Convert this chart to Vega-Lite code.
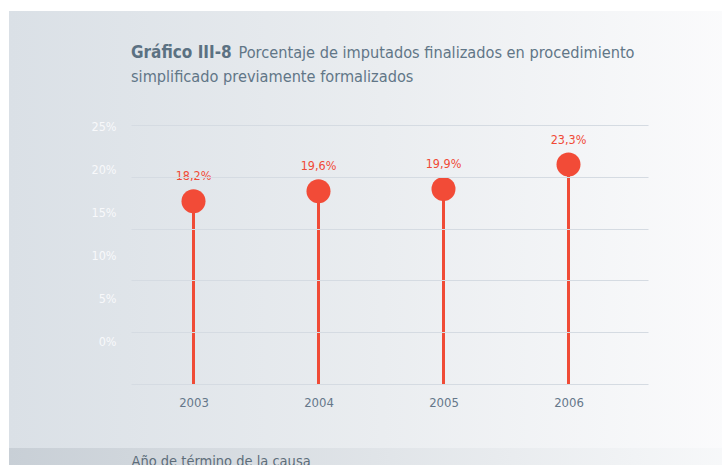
{
  "$schema": "https://vega.github.io/schema/vega-lite/v6.json",
  "width": 517,
  "height": 259,
  "autosize": "none",
  "padding": {"left": 131, "top": 125, "right": 74, "bottom": 81},
  "background": "#ffffff",
  "config": {"view": {"stroke": null}},
  "title": {
    "text": "Gráfico III-8",
    "subtitle": "simplificado previamente formalizados",
    "anchor": "start",
    "frame": "group",
    "font": "DejaVu Sans Condensed, DejaVu Sans, sans-serif",
    "fontSize": 17,
    "fontWeight": "bold",
    "color": "#5b7182",
    "subtitleFont": "DejaVu Sans Condensed, DejaVu Sans, sans-serif",
    "subtitleFontSize": 16.2,
    "subtitleFontWeight": "normal",
    "subtitleColor": "#617687",
    "subtitlePadding": 7,
    "offset": 0,
    "dy": 75
  },
  "data": {
    "values": [
      {"year": 2003, "value": 18.2, "label": "18,2%"},
      {"year": 2004, "value": 19.6, "label": "19,6%"},
      {"year": 2005, "value": 19.9, "label": "19,9%"},
      {"year": 2006, "value": 23.3, "label": "23,3%"}
    ]
  },
  "layer": [
    {
      "layer": [
        {
          "data": {"values": [{"part": "background"}]},
          "mark": {
            "type": "rect",
            "clip": false,
            "color": {
              "gradient": "linear",
              "x1": 0, "x2": 1, "y1": 0, "y2": 0,
              "stops": [
                {"offset": 0, "color": "#dae0e6"},
                {"offset": 0.5, "color": "#eaedf0"},
                {"offset": 1, "color": "#fcfcfd"}
              ]
            }
          },
          "encoding": {
            "x": {
              "datum": 2001.524,
              "type": "quantitative",
              "scale": {"domain": [2002.5, 2006.636], "nice": false, "zero": false},
              "axis": {
                "values": [2003, 2004, 2005, 2006],
                "format": "d",
                "labelColor": "#65778a",
                "labelFont": "DejaVu Sans Condensed, DejaVu Sans, sans-serif",
                "labelFontSize": 13,
                "labelPadding": 12,
                "labelFlush": false,
                "ticks": false,
                "tickSize": 0,
                "domain": false,
                "grid": false,
                "title": "Año de término de la causa",
                "titleX": 0,
                "titleY": 81,
                "titleAlign": "left",
                "titleAnchor": "start",
                "titleBaseline": "alphabetic",
                "titleFont": "DejaVu Sans Condensed, DejaVu Sans, sans-serif",
                "titleFontSize": 14.5,
                "titleFontWeight": "normal",
                "titleColor": "#5d6d7a",
                "zindex": 1
              }
            },
            "x2": {"datum": 2007.5},
            "y": {
              "datum": 44.65,
              "type": "quantitative",
              "scale": {"domain": [-7.2, 28.8], "nice": false, "zero": false},
              "axis": {
                "orient": "left",
                "values": [-7.2, 0, 7.2, 14.4, 21.6, 28.8],
                "grid": true,
                "gridColor": "#d5dbe2",
                "gridWidth": 1,
                "labels": false,
                "ticks": false,
                "domain": false,
                "title": "Porcentaje de imputados finalizados en procedimiento",
                "titleAngle": 0,
                "titleAlign": "left",
                "titleBaseline": "alphabetic",
                "titleX": 107,
                "titleY": -68,
                "titleFont": "DejaVu Sans Condensed, DejaVu Sans, sans-serif",
                "titleFontSize": 16.2,
                "titleFontWeight": "normal",
                "titleColor": "#617687",
                "zindex": 1
              }
            },
            "y2": {"datum": -16.1}
          }
        },
        {
          "mark": {"type": "rule", "color": "#f04b36", "strokeWidth": 3},
          "encoding": {
            "x": {"field": "year", "type": "quantitative", "scale": {"domain": [2002.5, 2006.636], "nice": false, "zero": false}},
            "y": {"field": "value", "type": "quantitative", "scale": {"domain": [-7.2, 28.8], "nice": false, "zero": false}},
            "y2": {"datum": -7.2}
          }
        },
        {
          "mark": {"type": "point", "filled": true, "size": 576, "color": "#f24b37", "opacity": 1, "strokeWidth": 0},
          "encoding": {
            "x": {"field": "year", "type": "quantitative", "scale": {"domain": [2002.5, 2006.636], "nice": false, "zero": false}},
            "y": {"field": "value", "type": "quantitative", "scale": {"domain": [-7.2, 28.8], "nice": false, "zero": false}}
          }
        },
        {
          "mark": {
            "type": "text",
            "dy": -25,
            "fontSize": 12.5,
            "color": "#f04a36",
            "font": "DejaVu Sans Condensed, DejaVu Sans, sans-serif"
          },
          "encoding": {
            "x": {"field": "year", "type": "quantitative", "scale": {"domain": [2002.5, 2006.636], "nice": false, "zero": false}},
            "y": {"field": "value", "type": "quantitative", "scale": {"domain": [-7.2, 28.8], "nice": false, "zero": false}},
            "text": {"field": "label"}
          }
        }
      ]
    },
    {
      "data": {"values": [{"part": "strip"}]},
      "mark": {
        "type": "rect",
        "clip": false,
        "color": {
          "gradient": "linear",
          "x1": 0, "x2": 1, "y1": 0, "y2": 0,
          "stops": [
            {"offset": 0, "color": "#c8cfd6"},
            {"offset": 1, "color": "#f9fafb"}
          ]
        }
      },
      "encoding": {
        "x": {"datum": 2001.524, "type": "quantitative"},
        "x2": {"datum": 2007.5},
        "y": {
          "datum": -12.48,
          "type": "quantitative",
          "scale": {"domain": [-5.016, 25.198], "nice": false, "zero": false},
          "axis": {
            "orient": "left",
            "values": [0, 5, 10, 15, 20, 25],
            "labelExpr": "datum.value + '%'",
            "labelColor": "#f8f9fb",
            "labelFont": "DejaVu Sans Condensed, DejaVu Sans, sans-serif",
            "labelFontSize": 12.5,
            "labelPadding": 15,
            "ticks": false,
            "tickSize": 0,
            "domain": false,
            "grid": false,
            "title": null,
            "zindex": 1
          }
        },
        "y2": {"datum": -16}
      }
    }
  ],
  "resolve": {"scale": {"y": "independent"}}
}
